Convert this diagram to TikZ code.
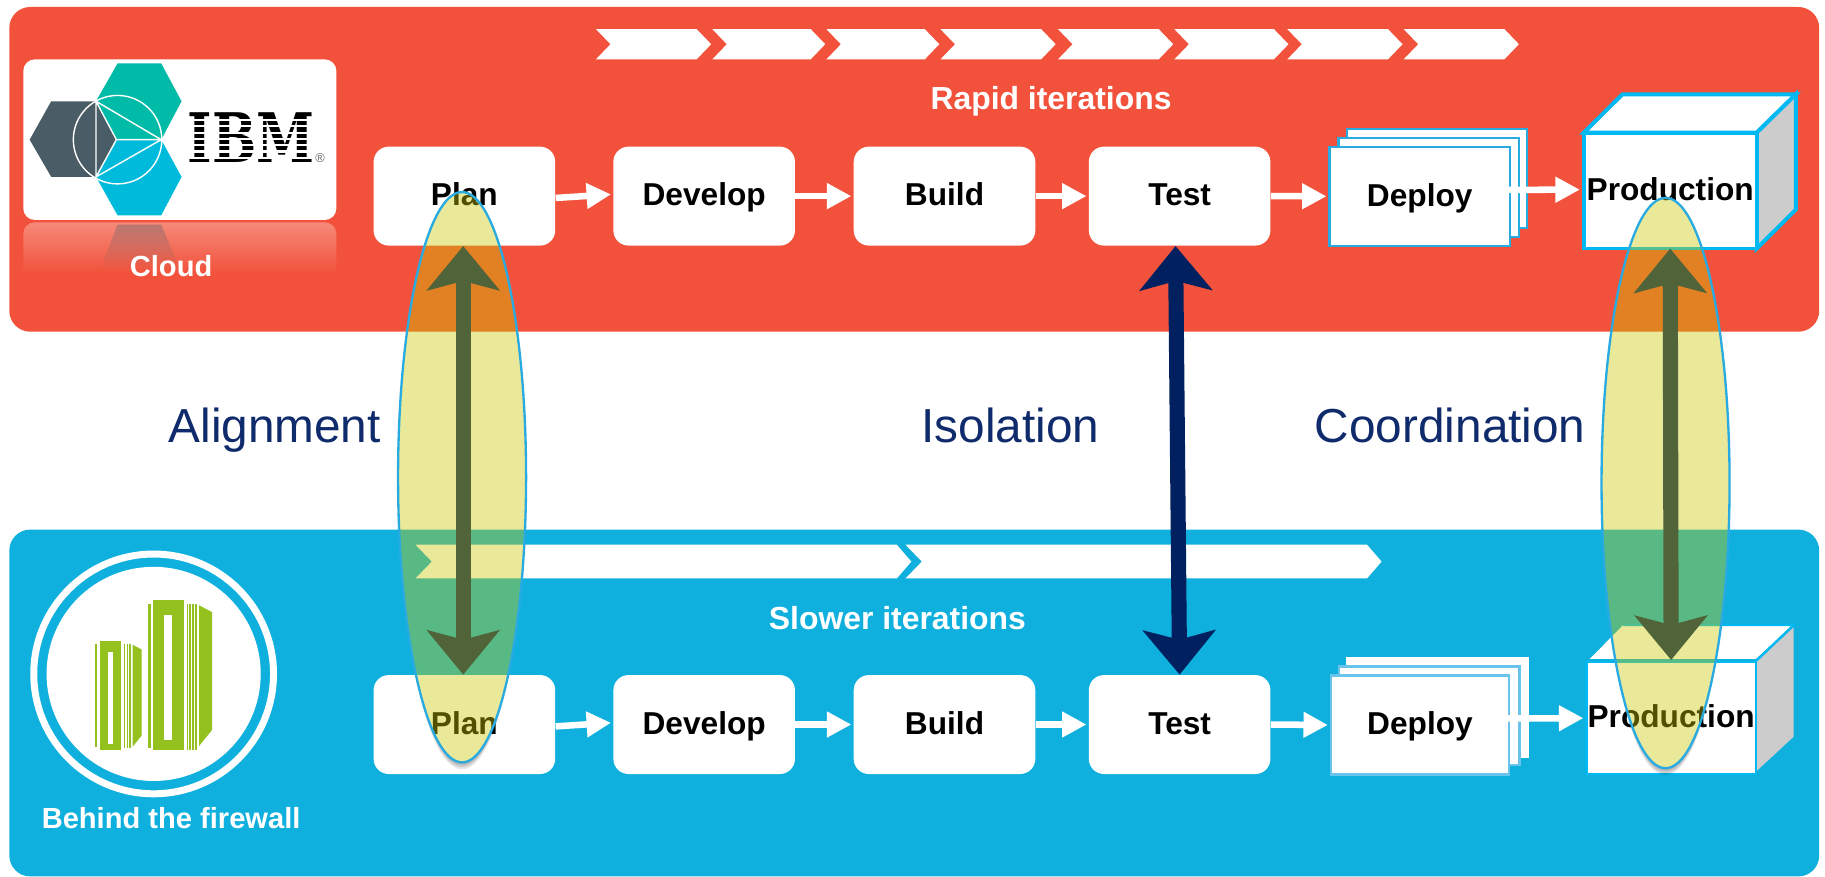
\documentclass[tikz,border=0pt]{standalone}
\usepackage{fontspec}
\setmainfont{Liberation Sans}
\newfontfamily\ibmfont{DejaVu Serif}
\usetikzlibrary{arrows.meta,shapes.geometric,fadings}
\definecolor{cloudred}{HTML}{F2523B}
\definecolor{fwblue}{HTML}{0FB0DE}
\definecolor{navy}{HTML}{002060}
\definecolor{labelblue}{HTML}{0F2B6B}
\definecolor{edgeblue}{HTML}{29ABE2}
\definecolor{cubeblue}{HTML}{00B9F2}
\definecolor{sidegray}{HTML}{CCCCCC}
\definecolor{srvgreen}{HTML}{95C11F}
\definecolor{hexgray}{HTML}{4A5C66}
\definecolor{hexteal}{HTML}{00BBA7}
\definecolor{hexblue}{HTML}{00BADB}
\definecolor{lensfill}{RGB}{200,200,0}
\tikzset{
  panel/.style={rounded corners=9pt},
  boxtext/.style={font=\fontsize{13.6}{15}\selectfont\bfseries,text height=9.8pt,text depth=1.36pt},
  procbox/.style={boxtext,fill=white,rounded corners=6.5pt,minimum width=78pt,minimum height=42.5pt,inner sep=0pt},
  flow/.style={draw=white,line width=2.8pt,shorten >=.8pt,-{Triangle[length=10.5pt,width=10.5pt]}},
  bigarrow/.style={draw=navy,line width=6.5pt,{Stealth[length=19pt,width=31pt,inset=4pt]}-{Stealth[length=19pt,width=31pt,inset=4pt]}},
  lens/.style={ellipse,inner sep=0pt,fill=lensfill,fill opacity=.4,draw=edgeblue,line width=1pt,minimum width=55pt,minimum height=245pt},
  sheet/.style={boxtext,fill=white,line width=1pt,inner sep=0pt,minimum width=77.5pt,minimum height=42.5pt},
  bigword/.style={text=labelblue,font=\fontsize{20.5}{24}\selectfont,text height=14.76pt,text depth=0pt},
  whiteword/.style={text=white,font=\fontsize{13.7}{16}\selectfont\bfseries,text height=9.86pt,text depth=0pt},
  sideword/.style={text=white,font=\fontsize{12.5}{15}\selectfont\bfseries},
  chev/.style={fill=white},
}
\newcommand{\chevron}[5]{\fill[chev] (#1,#3) -- (#2-12.5,#3) -- (#2,{(#3+#4)/2}) -- (#2-12.5,#4) -- (#1,#4) -- (#1+#5,{(#3+#4)/2}) -- cycle;}
\newcommand{\lensshadow}[2]{%
  \begin{scope}[even odd rule]
    \clip (0,0) rectangle (1568,753.5) (#1,#2) ellipse[x radius=55,y radius=245];
    \foreach \dd in {1.5,3,4.5,6} \fill[black,opacity=.09] (#1,#2+\dd) ellipse[x radius=54,y radius=245];
  \end{scope}}
\begin{document}
\begin{tikzpicture}[x=.5pt,y=-.5pt]
\useasboundingbox (0,0) rectangle (1568,753.5);
\fill[white] (0,0) rectangle (1568,753.5);
% panels
\fill[cloudred,panel] (8,6) rectangle (1563,285);
\fill[fwblue,panel] (8,455) rectangle (1563,753);
% top chevrons
\chevron{512}{611}{25}{51}{12.5}
\chevron{612}{709}{25}{51}{12.5}
\chevron{710}{807}{25}{51}{12.5}
\chevron{808}{907}{25}{51}{12.5}
\chevron{909}{1008}{25}{51}{12.5}
\chevron{1009}{1107}{25}{51}{12.5}
\chevron{1106}{1205}{25}{51}{12.5}
\chevron{1206}{1305}{25}{51}{12.5}
% bottom chevrons
\chevron{357}{783}{468}{497}{14}
\chevron{778}{1187}{468}{497}{14}
% logo
\fill[white,rounded corners=5pt] (20,51) rectangle (289,189);
\fill[white,opacity=.32,path fading=south] (20,235) -- (20,201) arc[start angle=180,end angle=90,radius=5pt] -- (279,191) arc[start angle=90,end angle=0,radius=5pt] -- (289,235) -- cycle;
\fill[hexgray,opacity=.35,path fading=south] (101,193) -- (138.5,193) -- (155,232) -- (86,232) -- cycle;
\fill[hexteal] (101,54.5) -- (138.5,54.5) -- (156,87) -- (138.5,120) -- (100,120) -- (82.5,87) -- cycle;
\fill[hexblue] (100,120) -- (138.5,120) -- (156,152) -- (138.5,185) -- (101,185) -- (82.5,152) -- cycle;
\fill[hexgray] (44,87) -- (82.5,87) -- (100,120) -- (82.5,152) -- (44,152) -- (25.5,120) -- cycle;
\draw[white,line width=.6pt] (82.5,87) -- (82.5,152) -- (138.5,120) -- cycle (82.5,87) -- (100,120) -- (82.5,152) (100,120) -- (138.5,120) (101,120) circle[radius=38];
\node (ibm) at (216,118.5) [inner sep=0pt] {\scalebox{.79}[1.03]{\ibmfont\bfseries\fontsize{28.5}{30}\selectfont IBM}};
\foreach \yy in {102.2,107.6,113,118.4,123.8,129.2,134.6}
  \fill[white] (160,\yy) rectangle (272,\yy+1.9);
\node[inner sep=0pt,text=black!60,font=\fontsize{5.5}{6}\selectfont] (reg) at (275,135.5) {®};
\node[sideword] (cloud) at (147,229) {Cloud};
% firewall badge
\draw[white,line width=3pt,fill=none] (132,579) circle[radius=103];
\fill[white] (132,579) circle[radius=92];
\begin{scope}[srvgreen]
  \fill (85.6,551) rectangle (104,644);
  \fill[white] (92.4,560) rectangle (97,639);
  \fill (81.8,553) rectangle (83.5,641.5);
  \foreach \xx in {106.6,108.8,111} \fill (\xx,553) rectangle (\xx+1.2,643);
  \fill (114,554) -- (121.6,558) -- (121.6,632) -- (114,641.5) -- cycle;
  \fill (131.7,515.5) rectangle (158,644);
  \fill[white] (141,528.4) rectangle (147.7,636);
  \fill (127,519) rectangle (129.7,643);
  \foreach \xx in {160.3,162.8,165.3,167.5} \fill (\xx,519) rectangle (\xx+1.5,644);
  \fill (171,520) -- (182.3,526) -- (182.3,627) -- (171,641) -- cycle;
\end{scope}
\node[sideword] (fw) at (147,703) {Behind the firewall};
% captions
\node[whiteword] (rapid) at (903,84) {Rapid iterations};
\node[whiteword] (slower) at (771,531) {Slower iterations};
\node[bigword] (align) at (236,365) {Alignment};
\node[bigword] (iso) at (868,365) {Isolation};
\node[bigword] (coord) at (1246,365) {Coordination};
% top row
\node[procbox] (planA) at (399,168.5) {Plan};
\node[procbox] (devA) at (605,168.5) {Develop};
\node[procbox] (buildA) at (811.5,168.5) {Build};
\node[procbox] (testA) at (1013.5,168.5) {Test};
\node[sheet,draw=edgeblue] (depA3) at (1234.7,153.5) {};
\node[sheet,draw=edgeblue] (depA2) at (1227.5,161) {};
\node[sheet,draw=edgeblue] (depA) at (1219.8,168.7) {Deploy};
\filldraw[draw=cubeblue,line width=1.7pt,fill=white] (1360.7,114) -- (1394,81) -- (1543,81) -- (1509.3,114) -- cycle;
\filldraw[draw=cubeblue,line width=1.7pt,fill=sidegray] (1509.3,114) -- (1543,81) -- (1543,180) -- (1509.3,213.5) -- cycle;
\node[boxtext,draw=cubeblue,line width=1.7pt,fill=white,minimum width=74.3pt,minimum height=49.75pt,inner sep=0pt] (prodA) at (1435,163.75) {Production};
% bottom row
\node[procbox] (planB) at (399,622.5) {Plan};
\node[procbox] (devB) at (605,622.5) {Develop};
\node[procbox] (buildB) at (811.5,622.5) {Build};
\node[procbox] (testB) at (1013.5,622.5) {Test};
\node[sheet,draw=white] (depB3) at (1234.9,607.8) {};
\node[sheet,draw=edgeblue!70!white] (depB2) at (1228,615) {};
\node[sheet,draw=edgeblue!70!white,minimum width=76.5pt] (depB) at (1220,622.9) {Deploy};
\fill[white] (1366,566) -- (1394.6,537) -- (1541,537) -- (1508.6,566) -- cycle;
\fill[sidegray] (1508.6,569) -- (1541,539) -- (1541,633) -- (1508.6,663) -- cycle;
\node[boxtext,draw=cubeblue,line width=1pt,fill=white,minimum width=72.8pt,minimum height=48pt,inner sep=0pt] (prodB) at (1435.8,617) {Production};
\draw[cubeblue,line width=1pt] (1508.6,568) -- (1541,537) -- (1394.6,537);
% small connectors
\draw[flow] ([yshift=-.8pt]planA.east) -- ([yshift=.8pt]devA.west);
\draw[flow] (devA.east) -- (buildA.west);
\draw[flow] (buildA.east) -- (testA.west);
\draw[flow] (testA.east) -- (depA.west);
\draw[flow] ([yshift=2.8pt,xshift=-1pt]depA.east) -- ([yshift=.4pt]prodA.west);
\draw[flow] ([yshift=-.8pt]planB.east) -- ([yshift=.8pt]devB.west);
\draw[flow] (devB.east) -- (buildB.west);
\draw[flow] (buildB.east) -- (testB.west);
\draw[flow] (testB.east) -- (depB.west);
\draw[flow] ([yshift=2.8pt,xshift=-1pt]depB.east) -- (prodB.west);
% double arrows
\draw[bigarrow] ([xshift=-1.75pt]testA.south) -- (testB.north);
\draw[bigarrow] ([xshift=-.5pt]planA.south) -- ([xshift=-.5pt]planB.north);
\draw[bigarrow] ([yshift=.8pt]prodA.south) -- ([yshift=.5pt]prodB.north);
% lenses
\lensshadow{397}{410}
\lensshadow{1431}{415}
\node[lens] (lensL) at (397,410) {};
\node[lens] (lensR) at (1431,415) {};
\end{tikzpicture}
\end{document}
